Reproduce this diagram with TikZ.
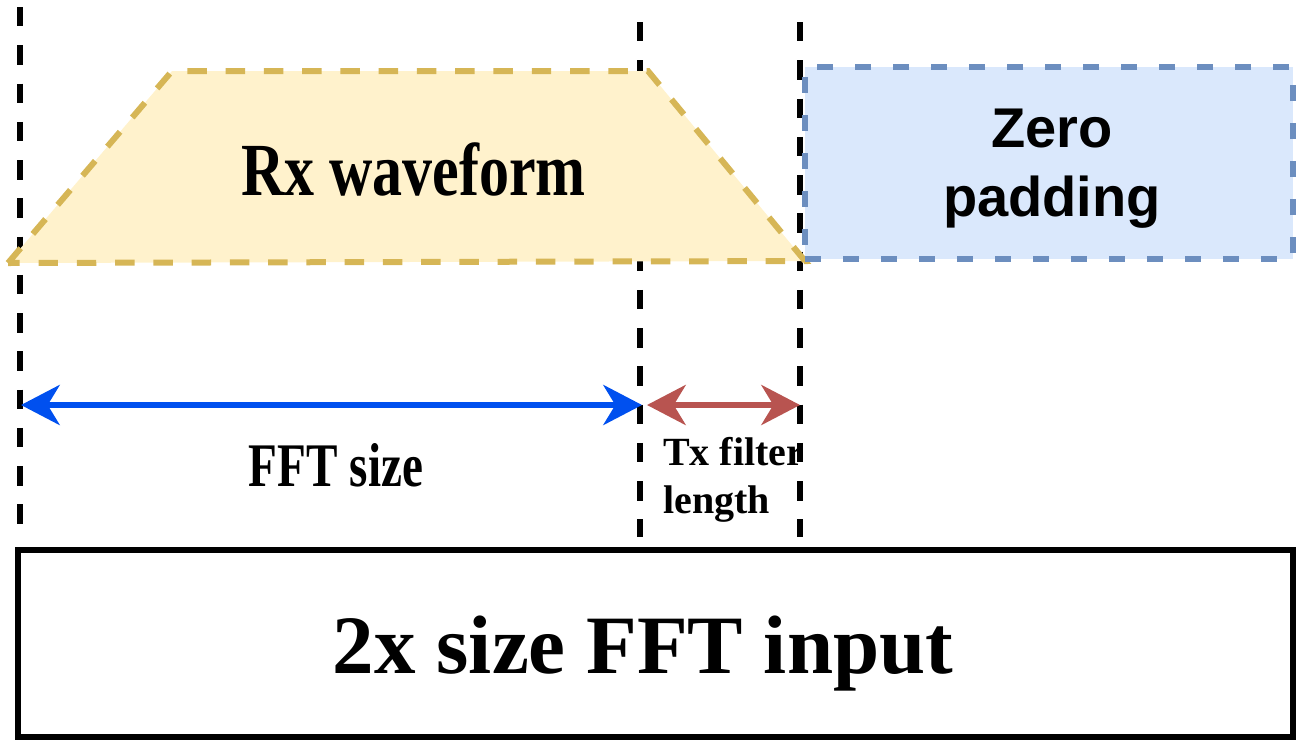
\documentclass[tikz,border=0pt]{standalone}
\usepackage{fontspec}
\setmainfont{Liberation Serif}
\newfontfamily\zpfont{Liberation Sans}
\usepackage{graphicx}
\usetikzlibrary{arrows.meta}
\definecolor{rxfill}{HTML}{FFF2CC}
\definecolor{rxline}{HTML}{D6B656}
\definecolor{zpfill}{HTML}{DAE8FC}
\definecolor{zpline}{HTML}{6C8EBF}
\definecolor{fftblue}{HTML}{0050EF}
\definecolor{txred}{HTML}{B85450}
\begin{document}
\begin{tikzpicture}[x=0.75pt,y=-0.75pt,
  guide/.style={draw=black,line width=4.5pt,dash pattern=on 14.6pt off 14.1pt},
  rxshape/.style={draw=rxline,fill=rxfill,line width=4.5pt,dash pattern=on 14.6pt off 14.1pt},
  zpbox/.style={draw=zpline,fill=zpfill,line width=4.5pt,dash pattern=on 12pt off 16.5pt,
    inner sep=0pt,minimum width=366pt,minimum height=144pt},
  inbox/.style={draw=black,line width=4.5pt,inner sep=0pt,
    minimum width=955.9pt,minimum height=140.25pt},
  dimarrow/.style={line width=4.5pt,
    {Stealth[length=29pt,width=30pt,inset=9pt]}-{Stealth[length=29pt,width=30pt,inset=9pt]}},
  lbl/.style={inner sep=0pt,font=\bfseries},
]
\useasboundingbox (0,0) rectangle (1302,740);

% guide lines marking the segment boundaries
\coordinate (g0t) at (20,7);   \coordinate (g0b) at (20,525);
\coordinate (g1t) at (640,22); \coordinate (g1b) at (640,537);
\coordinate (g2t) at (800,22); \coordinate (g2b) at (800,537);
\draw[guide] (g0t) -- (g0b);
\draw[guide] (g1t) -- (g1b);
\draw[guide] (g2t) -- (g2b);

% received waveform with its ramps
\draw[rxshape] (8,263) -- (172,71) -- (648,71) -- (805,261) -- cycle;
\node[lbl,anchor=base] (rx) at (413.5,195)
  {\fontsize{56.25pt}{60pt}\selectfont\scalebox{0.8}[1]{Rx waveform}};

% zero padding block
\node[zpbox] (zp) at (1049,163) {};
\node[inner sep=0pt,align=center,font=\zpfont\bfseries\fontsize{42pt}{51.75pt}\selectfont]
  (zpl) at (1052,168.4) {Zero\\padding};

% span arrows
\coordinate (fa) at (21,405);  \coordinate (fb) at (642,405);
\coordinate (ta) at (647,405); \coordinate (tb) at (800,405);
\draw[dimarrow,fftblue] (fa) -- (fb);
\draw[dimarrow,txred] (ta) -- (tb);
\node[lbl,anchor=base] (fft) at (336,486)
  {\fontsize{46.5pt}{50pt}\selectfont\scalebox{0.76}[1]{FFT size}};
\node[lbl,anchor=north west,align=left,font=\bfseries\fontsize{30pt}{36pt}\selectfont]
  (tx) at (663,437.5) {Tx filter\\length};

% doubled FFT input frame
\node[inbox] (in) at (655.75,643.5) {};
\node[lbl,anchor=base] (inl) at (643,673)
  {\fontsize{62.25pt}{66pt}\selectfont 2x size FFT input};
\end{tikzpicture}
\end{document}
